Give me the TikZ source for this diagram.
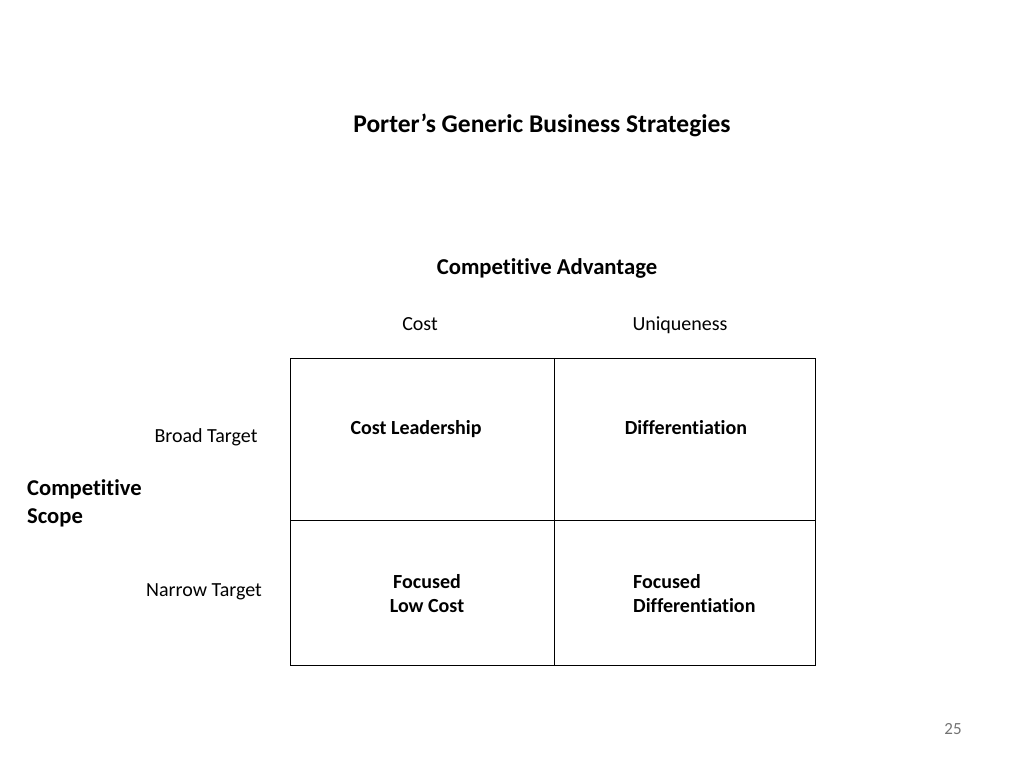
\documentclass[tikz,border=0pt]{standalone}
\usepackage{fontspec}
\setmainfont[Ligatures=NoCommon]{Carlito}
\begin{document}
\begin{tikzpicture}[x=1pt,y=-1pt,
  txt/.style={inner sep=0pt,text height=0.66em,text depth=0.2em},
  lbl/.style={txt,font=\fontsize{20}{24}\selectfont},
  blbl/.style={txt,font=\fontsize{20}{24}\selectfont\bfseries},
  grid/.style={draw=black,line width=1pt}]
\useasboundingbox (0,0) rectangle (1024,768);
\node[txt,font=\fontsize{25.5}{30}\selectfont\bfseries] (title) at (542,130) {Porter’s Generic Business Strategies};
\node[txt,font=\fontsize{22.7}{27}\selectfont\bfseries] (adv) at (547,272) {Competitive Advantage};
\node[lbl] (cost) at (420,328) {Cost};
\node[lbl] (uniq) at (680,328) {Uniqueness};
\node[lbl] (broad) at (206,440) {Broad Target};
\node[lbl] (narrow) at (204,594) {Narrow Target};
\node[txt,font=\fontsize{22.6}{27.5}\selectfont\bfseries,align=left,anchor=west] (scope) at (27,521) {Competitive\\Scope};
\coordinate (tl) at (290,358);
\coordinate (br) at (815,665);
\draw[grid] (tl) rectangle (br);
\coordinate (tm) at (554,358);
\coordinate (bm) at (554,665);
\coordinate (lm) at (290,520);
\coordinate (rm) at (815,520);
\draw[grid] (tm) -- (bm);
\draw[grid] (lm) -- (rm);
\node[blbl] (cl) at (416,432) {Cost Leadership};
\node[blbl] (diff) at (686,432) {Differentiation};
\node[blbl,align=center] (flc) at (427,610) {Focused\\Low Cost};
\node[blbl,align=left,anchor=west] (fd) at (633,610) {Focused\\Differentiation};
\node[txt,font=\fontsize{17}{20}\selectfont,text=black!55] (page) at (953,732) {25};
\end{tikzpicture}
\end{document}
